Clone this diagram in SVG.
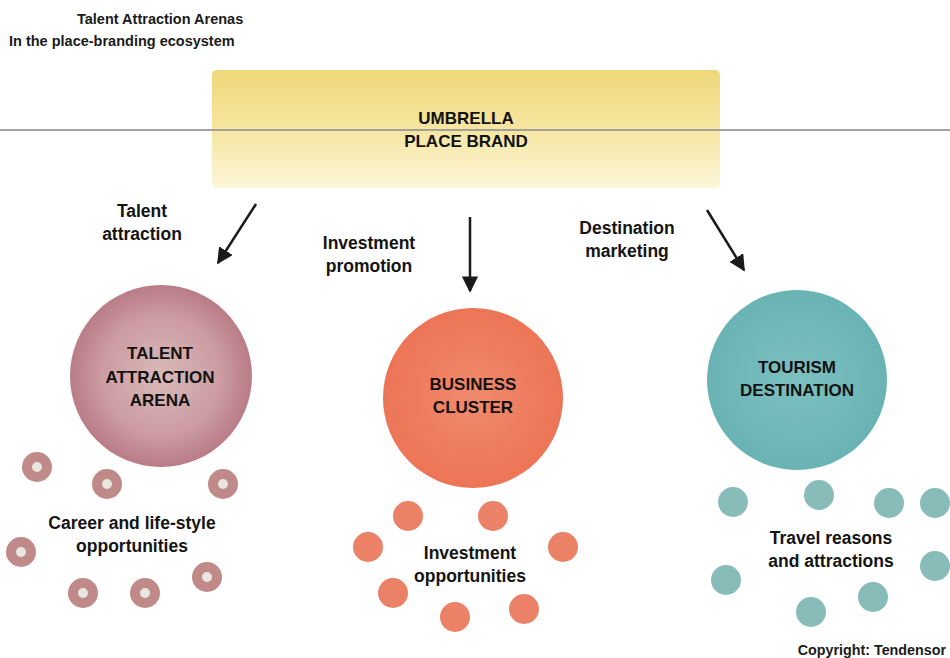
<svg xmlns="http://www.w3.org/2000/svg" width="950" height="658" viewBox="0 0 950 658">
<style>
  .title{font-family:"Liberation Sans",Arial,sans-serif;font-weight:bold;font-size:14.5px;fill:#1a1a1a}
  .lbl{font-family:"Liberation Sans",Arial,sans-serif;font-weight:bold;font-size:17.5px;fill:#141414;text-anchor:middle}
  .node{font-family:"Liberation Sans",Arial,sans-serif;font-weight:bold;font-size:17px;fill:#121212;text-anchor:middle}
  .conn{stroke:#1a1a1a;stroke-width:2.5;fill:none}
  .tdot{fill:#bf8a88}
  .speck{fill:#e8e6df}
  .bdot{fill:#eb8166}
  .tudot{fill:#88bcb9}
</style>
<defs>
  <linearGradient id="gUmb" x1="0" y1="0" x2="0" y2="1">
    <stop offset="0" stop-color="#efd679"/>
    <stop offset="0.5" stop-color="#f6e6a0"/>
    <stop offset="1" stop-color="#fcf6da"/>
  </linearGradient>
  <radialGradient id="gTal" cx="0.5" cy="0.5" r="0.5">
    <stop offset="0" stop-color="#d9bab8"/>
    <stop offset="0.65" stop-color="#cc9ca2"/>
    <stop offset="1" stop-color="#b97c87"/>
  </radialGradient>
  <radialGradient id="gBus" cx="0.5" cy="0.5" r="0.5">
    <stop offset="0" stop-color="#f18a6e"/>
    <stop offset="1" stop-color="#ec7556"/>
  </radialGradient>
  <radialGradient id="gTour" cx="0.5" cy="0.5" r="0.5">
    <stop offset="0" stop-color="#7cc0c1"/>
    <stop offset="1" stop-color="#6ab3b5"/>
  </radialGradient>
  <marker id="ah" viewBox="0 0 10 10" refX="9" refY="5" markerWidth="6.5" markerHeight="6.5" orient="auto" markerUnits="strokeWidth">
    <path d="M0,0 L10,5 L0,10 z" fill="#1a1a1a"/>
  </marker>
</defs>
<rect width="950" height="658" fill="#ffffff"/>

<g id="title">
  <text class="title" x="77" y="24">Talent Attraction Arenas</text>
  <text class="title" x="9" y="46">In the place-branding ecosystem</text>
</g>

<g id="umbrella">
  <rect x="212" y="70" width="508" height="118" rx="5" fill="url(#gUmb)"/>
  <text class="node" x="466" y="124">UMBRELLA</text>
  <text class="node" x="466" y="147">PLACE BRAND</text>
</g>
<line x1="0" y1="130" x2="950" y2="130" stroke="#9a9a9a" stroke-width="2" opacity="0.9"/>

<g id="connectors">
  <line class="conn" x1="256" y1="204" x2="218" y2="263" marker-end="url(#ah)"/>
  <line class="conn" x1="470" y1="217" x2="470" y2="291" stroke-width="3" marker-end="url(#ah)"/>
  <line class="conn" x1="707" y1="210" x2="744" y2="270" marker-end="url(#ah)"/>
  <text class="lbl" x="142" y="217">Talent</text>
  <text class="lbl" x="142" y="240">attraction</text>
  <text class="lbl" x="369" y="249">Investment</text>
  <text class="lbl" x="369" y="272">promotion</text>
  <text class="lbl" x="627" y="234">Destination</text>
  <text class="lbl" x="627" y="257">marketing</text>
</g>

<g id="talent">
  <circle cx="161" cy="376" r="91" fill="url(#gTal)"/>
  <text class="node" x="160" y="359">TALENT</text>
  <text class="node" x="160" y="383">ATTRACTION</text>
  <text class="node" x="160" y="406">ARENA</text>
</g>

<g id="business">
  <circle cx="473" cy="398" r="90" fill="url(#gBus)"/>
  <text class="node" x="473" y="390">BUSINESS</text>
  <text class="node" x="473" y="413">CLUSTER</text>
</g>

<g id="tourism">
  <circle cx="797" cy="380" r="90" fill="url(#gTour)"/>
  <text class="node" x="797" y="373">TOURISM</text>
  <text class="node" x="797" y="396">DESTINATION</text>
</g>

<g id="talent-opportunities">
  <circle class="tdot" cx="37" cy="467" r="15"/><circle class="speck" cx="37" cy="467" r="5"/>
  <circle class="tdot" cx="107" cy="484" r="15"/><circle class="speck" cx="107" cy="484" r="5"/>
  <circle class="tdot" cx="223" cy="484" r="15"/><circle class="speck" cx="223" cy="484" r="5"/>
  <circle class="tdot" cx="21" cy="552" r="15"/><circle class="speck" cx="21" cy="552" r="5"/>
  <circle class="tdot" cx="83" cy="593" r="15"/><circle class="speck" cx="83" cy="593" r="5"/>
  <circle class="tdot" cx="145" cy="593" r="15"/><circle class="speck" cx="145" cy="593" r="5"/>
  <circle class="tdot" cx="207" cy="577" r="15"/><circle class="speck" cx="207" cy="577" r="5"/>
  <text class="lbl" x="132" y="529">Career and life-style</text>
  <text class="lbl" x="132" y="552">opportunities</text>
</g>

<g id="investment-opportunities">
  <circle class="bdot" cx="408" cy="516" r="15"/>
  <circle class="bdot" cx="493" cy="516" r="15"/>
  <circle class="bdot" cx="368" cy="547" r="15"/>
  <circle class="bdot" cx="563" cy="547" r="15"/>
  <circle class="bdot" cx="393" cy="593" r="15"/>
  <circle class="bdot" cx="455" cy="617" r="15"/>
  <circle class="bdot" cx="524" cy="609" r="15"/>
  <text class="lbl" x="470" y="559">Investment</text>
  <text class="lbl" x="470" y="582">opportunities</text>
</g>

<g id="travel-attractions">
  <circle class="tudot" cx="733" cy="502" r="15"/>
  <circle class="tudot" cx="819" cy="495" r="15"/>
  <circle class="tudot" cx="889" cy="503" r="15"/>
  <circle class="tudot" cx="935" cy="503" r="15"/>
  <circle class="tudot" cx="935" cy="566" r="15"/>
  <circle class="tudot" cx="726" cy="580" r="15"/>
  <circle class="tudot" cx="873" cy="597" r="15"/>
  <circle class="tudot" cx="811" cy="612" r="15"/>
  <text class="lbl" x="831" y="544">Travel reasons</text>
  <text class="lbl" x="831" y="567">and attractions</text>
</g>

<text x="946" y="655" font-family="Liberation Sans, Arial, sans-serif" font-weight="bold" font-size="14.3" fill="#1a1a1a" text-anchor="end">Copyright: Tendensor</text>
</svg>
